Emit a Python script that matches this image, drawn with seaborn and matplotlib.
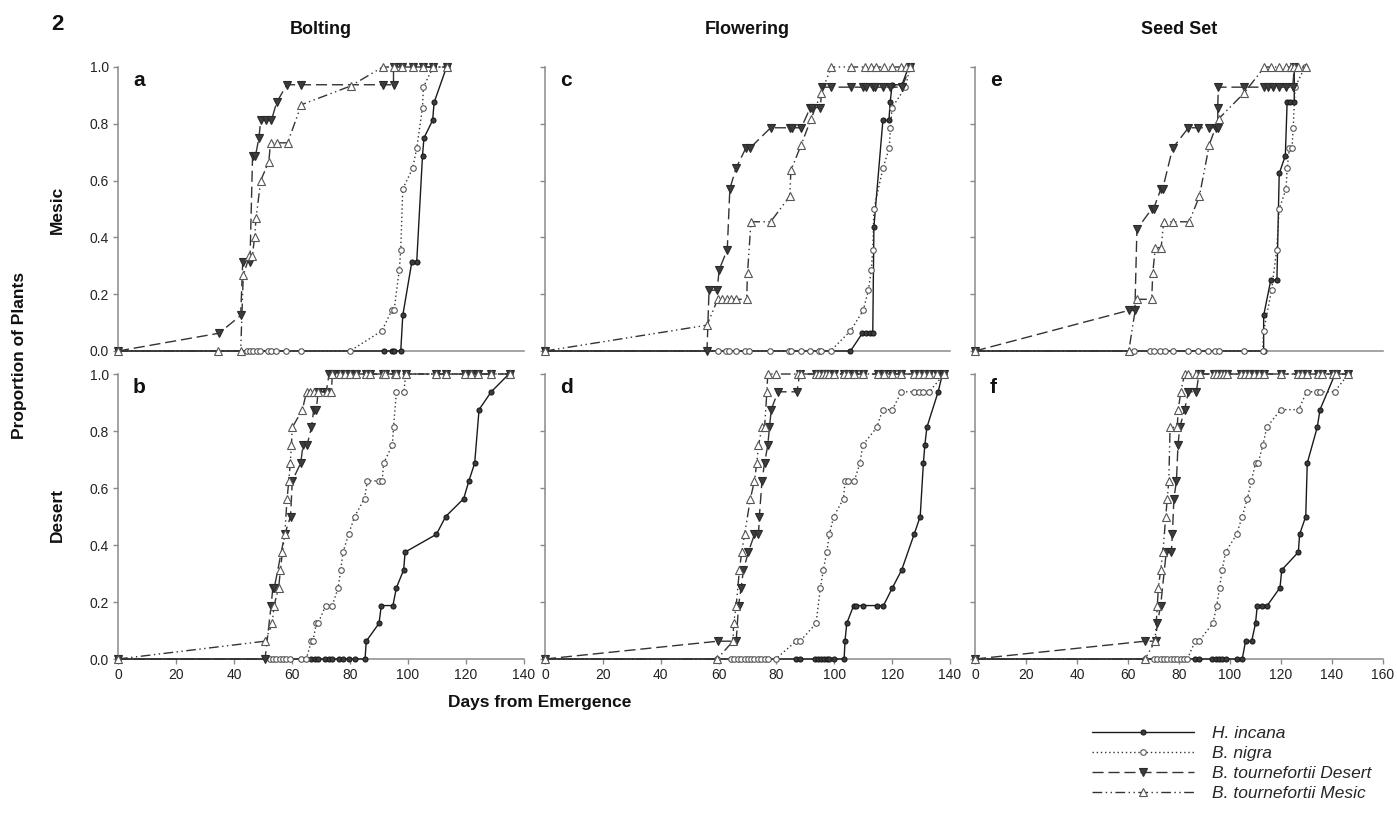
import matplotlib
matplotlib.use("Agg")
import matplotlib.pyplot as plt
from matplotlib.lines import Line2D
import seaborn as sns

sns.set_style("ticks")
plt.rcParams['font.family'] = ['Liberation Sans', 'DejaVu Sans']

# ---------------- DATA ----------------
species = ["H. incana", "B. nigra", "B. tournefortii Desert", "B. tournefortii Mesic"]
col_titles = ["Bolting", "Flowering", "Seed Set"]
row_titles = ["Mesic", "Desert"]
panel_letters = [["a", "c", "e"], ["b", "d", "f"]]
xticks_left = [0, 20, 40, 60, 80, 100, 120, 140]
xticks_right = [0, 20, 40, 60, 80, 100, 120, 140, 160]
yticks = [0.0, 0.2, 0.4, 0.6, 0.8, 1.0]

# Panel a : Bolting, Mesic site
a_hinc_x = [0, 91.7, 94.4, 95.2, 97.5, 98.2, 101.3, 103, 105, 105.5, 108.5, 109, 113.3]
a_hinc_y = [0, 0, 0, 0, 0, 0.125, 0.3125, 0.3125, 0.6875, 0.75, 0.8125, 0.875, 1.0]
a_bnig_x = [0, 44.4, 45.5, 46.7, 47.8, 49, 51.8, 52.6, 54.5, 57.9, 63, 80, 91, 94.4, 95.2,
            97, 97.5, 98.2, 101.6, 103, 105, 105.3, 108.7, 113.3]
a_bnig_y = [0, 0, 0, 0, 0, 0, 0, 0, 0, 0, 0, 0, 0.071, 0.143, 0.143,
            0.286, 0.357, 0.571, 0.643, 0.714, 0.857, 0.929, 1.0, 1.0]
a_btd_x = [0, 34.8, 42.3, 43, 45.5, 46.4, 47.4, 48.6, 49.2, 51, 52.9, 54.7, 58.2, 63, 91.3,
           95, 95, 98, 101.7, 105.3, 108.7, 113.3]
a_btd_y = [0, 0.0625, 0.125, 0.3125, 0.3125, 0.6875, 0.6875, 0.75, 0.8125, 0.8125, 0.8125,
           0.875, 0.9375, 0.9375, 0.9375, 0.9375, 1.0, 1.0, 1.0, 1.0, 1.0, 1.0]
a_btm_x = [0, 34.6, 42.3, 43.2, 45.3, 46.3, 47.1, 47.6, 49.2, 52, 52.6, 54.9, 58.5, 63.2, 80.2,
           91.3, 95, 98, 101.7, 105.3, 108.7, 113.3]
a_btm_y = [0, 0, 0, 0.267, 0.333, 0.333, 0.4, 0.467, 0.6, 0.667, 0.733, 0.733, 0.733, 0.867,
           0.933, 1.0, 1.0, 1.0, 1.0, 1.0, 1.0, 1.0]

# Panel c : Flowering, Mesic site
c_hinc_x = [0, 105.6, 109.7, 110.8, 112.2, 113.3, 113.7, 116.8, 118.9, 119.3, 120, 123.4, 125.7]
c_hinc_y = [0, 0, 0.0625, 0.0625, 0.0625, 0.0625, 0.4375, 0.8125, 0.8125, 0.875, 0.9375, 0.9375, 1.0]
c_bnig_x = [0, 59.7, 62.5, 63.7, 66, 69, 70.4, 77.7, 84.4, 85, 88.4, 91.7, 94.7, 95.5, 98.7,
            105.6, 110, 111.8, 112.8, 113.3, 113.7, 116.8, 119, 119.4, 120, 124.6, 126.2]
c_bnig_y = [0, 0, 0, 0, 0, 0, 0, 0, 0, 0, 0, 0, 0, 0, 0,
            0.071, 0.143, 0.214, 0.286, 0.357, 0.5, 0.643, 0.714, 0.786, 0.857, 0.929, 1.0]
c_btd_x = [0, 56, 56.7, 59.5, 60.2, 63, 63.9, 66, 69.4, 70.8, 78, 84.6, 85.5, 88.6, 91.7, 92.4,
           95.2, 95.7, 99, 105.9, 110, 111, 113.3, 114.2, 116.8, 119.3, 123.4, 126.2]
c_btd_y = [0, 0, 0.214, 0.214, 0.286, 0.357, 0.571, 0.643, 0.714, 0.714, 0.786, 0.786, 0.786,
           0.786, 0.857, 0.857, 0.857, 0.929, 0.929, 0.929, 0.929, 0.929, 0.929, 0.929, 0.929,
           0.929, 0.929, 1.0]
c_btm_x = [0, 56, 59.7, 61.3, 62.8, 64.3, 66, 69.7, 70, 71.2, 78, 84.6, 85, 88.6, 92, 95.5,
           99, 105.9, 110.5, 112.8, 114.3, 117.1, 120, 123.1, 124.8, 126.2]
c_btm_y = [0, 0.091, 0.182, 0.182, 0.182, 0.182, 0.182, 0.182, 0.273, 0.455, 0.455, 0.545,
           0.636, 0.727, 0.818, 0.909, 1.0, 1.0, 1.0, 1.0, 1.0, 1.0, 1.0, 1.0, 1.0, 1.0]

# Panel e : Seed set, Mesic site
e_hinc_x = [0, 113.2, 113.2, 116, 118.4, 119.3, 121.7, 122.4, 123.7, 125.2, 125.2]
e_hinc_y = [0, 0, 0.125, 0.25, 0.25, 0.625, 0.6875, 0.875, 0.875, 0.875, 1.0]
e_bnig_x = [0, 62.5, 68.8, 70.3, 72.5, 74.5, 77.6, 83.4, 87.3, 91.2, 94.2, 95.5, 105.4, 112.8,
            113.2, 116.3, 118.3, 119.3, 122, 122.4, 123.3, 124.3, 124.8, 125.5, 129.4]
e_bnig_y = [0, 0, 0, 0, 0, 0, 0, 0, 0, 0, 0, 0, 0, 0,
            0.071, 0.214, 0.357, 0.5, 0.571, 0.643, 0.714, 0.714, 0.786, 0.929, 1.0]
e_btd_x = [0, 60.3, 62.7, 63.5, 69.3, 70, 72.9, 73.6, 77.5, 83.7, 87.6, 91.6, 94.5, 95.2, 95.2,
           95.4, 105.4, 113.2, 114.8, 116.7, 119.1, 122, 124.6, 125.2]
e_btd_y = [0, 0.143, 0.143, 0.429, 0.5, 0.5, 0.571, 0.571, 0.714, 0.786, 0.786, 0.786, 0.786,
           0.786, 0.857, 0.929, 0.929, 0.929, 0.929, 0.929, 0.929, 0.929, 0.929, 1.0]
e_btm_x = [0, 60.3, 63.5, 69.3, 69.7, 70.7, 73, 74, 77.8, 84, 88, 91.9, 95.6, 105.6, 113.5,
           116, 119.3, 122, 124, 125.2, 126.5, 129.8]
e_btm_y = [0, 0, 0.182, 0.182, 0.273, 0.364, 0.364, 0.455, 0.455, 0.455, 0.545, 0.727, 0.818,
           0.909, 1.0, 1.0, 1.0, 1.0, 1.0, 1.0, 1.0, 1.0]

# Panel b : Bolting, Desert site
b_hinc_x = [0, 66.7, 67.8, 69, 71.3, 72.8, 73.9, 76.2, 77.6, 79.7, 81.8, 85.2, 85.6, 90, 90.8,
            94.8, 96, 98.5, 99, 109.8, 113, 119.2, 121, 123, 124.5, 128.7, 134.8]
b_hinc_y = [0, 0, 0, 0, 0, 0, 0, 0, 0, 0, 0, 0, 0.0625, 0.125, 0.1875, 0.1875, 0.25, 0.3125,
            0.375, 0.4375, 0.5, 0.5625, 0.625, 0.6875, 0.875, 0.9375, 1.0]
b_bnig_x = [0, 52.3, 53.4, 54.6, 55.7, 56.9, 58, 59.2, 63.2, 64.9, 66.7, 67.2, 68.4, 69, 71.6,
            73.9, 75.9, 76.8, 77.6, 79.5, 81.6, 85, 86, 90, 91.1, 91.6, 94.6, 95, 96, 98.6, 99.2,
            109.8, 113.2, 119.5, 121.8, 124.1, 128.7, 135]
b_bnig_y = [0, 0, 0, 0, 0, 0, 0, 0, 0, 0, 0.0625, 0.0625, 0.125, 0.125, 0.1875, 0.1875, 0.25,
            0.3125, 0.375, 0.4375, 0.5, 0.5625, 0.625, 0.625, 0.625, 0.6875, 0.75, 0.8125,
            0.9375, 0.9375, 1.0, 1.0, 1.0, 1.0, 1.0, 1.0, 1.0, 1.0]
b_btd_x = [0, 50.7, 52.8, 53.4, 53.9, 57.5, 59.5, 60.1, 63, 63.8, 65.2, 66.7, 67.5, 68.4, 69,
           71.8, 72.8, 74.1, 76.4, 78.2, 79.9, 82.2, 85.6, 86.8, 91.4, 92, 95.4, 96, 99.4,
           109.8, 113.2, 119.5, 121.8, 124.1, 128.7, 135]
b_btd_y = [0, 0, 0.1875, 0.25, 0.25, 0.4375, 0.5, 0.625, 0.6875, 0.75, 0.75, 0.8125, 0.875,
           0.875, 0.9375, 0.9375, 1.0, 1.0, 1.0, 1.0, 1.0, 1.0, 1.0, 1.0, 1.0, 1.0, 1.0, 1.0,
           1.0, 1.0, 1.0, 1.0, 1.0, 1.0, 1.0, 1.0]
b_btm_x = [0, 50.7, 53.2, 53.8, 55.4, 56, 56.7, 57.5, 58.3, 58.9, 59.4, 59.8, 60.1, 63.6, 65,
           66.3, 67.5, 69, 72.2, 73.6, 73.9, 76.4, 78.2, 79.9, 82.2, 85.6, 86.8, 91.4, 92, 95.4,
           96, 99.4, 109.8, 113.2, 119.5, 121.8, 124.1, 128.7, 135]
b_btm_y = [0, 0.0625, 0.125, 0.1875, 0.25, 0.3125, 0.375, 0.4375, 0.5625, 0.625, 0.6875, 0.75,
           0.8125, 0.875, 0.9375, 0.9375, 0.9375, 0.9375, 0.9375, 0.9375, 1.0, 1.0, 1.0, 1.0,
           1.0, 1.0, 1.0, 1.0, 1.0, 1.0, 1.0, 1.0, 1.0, 1.0, 1.0, 1.0, 1.0, 1.0, 1.0]

# Panel d : Flowering, Desert site
d_hinc_x = [0, 86.8, 88.2, 93.4, 94.5, 95.4, 96.3, 97.5, 98.3, 100, 103.4, 103.7, 104.3, 106.7,
            107.5, 109.8, 114.9, 117, 120.1, 123.3, 127.6, 129.7, 130.8, 131.3, 132, 135.9, 137.4]
d_hinc_y = [0, 0, 0, 0, 0, 0, 0, 0, 0, 0, 0, 0.0625, 0.125, 0.1875, 0.1875, 0.1875, 0.1875,
            0.1875, 0.25, 0.3125, 0.4375, 0.5, 0.6875, 0.75, 0.8125, 0.9375, 1.0]
d_bnig_x = [0, 59.5, 64.4, 65.5, 66.7, 67.8, 69, 70.1, 71.3, 72.4, 73.6, 74.7, 75.9, 77, 79.7,
            86.8, 88.2, 93.7, 95.2, 96.2, 97.4, 98.3, 99.8, 103.2, 103.7, 104.6, 106.9, 108.9,
            109.8, 114.7, 116.7, 120.1, 123.2, 127.6, 129.3, 130.5, 132.8, 138]
d_bnig_y = [0, 0, 0, 0, 0, 0, 0, 0, 0, 0, 0, 0, 0, 0, 0,
            0.0625, 0.0625, 0.125, 0.25, 0.3125, 0.375, 0.4375, 0.5, 0.5625, 0.625, 0.625,
            0.625, 0.6875, 0.75, 0.8125, 0.875, 0.875, 0.9375, 0.9375, 0.9375, 0.9375, 0.9375, 1.0]
d_btd_x = [0, 59.8, 66.1, 66.9, 67.8, 68.6, 70.3, 72.4, 73.8, 74.1, 75, 75.9, 77, 77.6, 78.2,
           80.5, 87.1, 88, 93.7, 94.8, 96, 97.1, 98.3, 100, 103.4, 104.6, 106.9, 109.8, 115,
           117.2, 120.1, 123, 127.6, 129.3, 131, 132.8, 135.6, 138]
d_btd_y = [0, 0.0625, 0.0625, 0.1875, 0.25, 0.3125, 0.375, 0.4375, 0.4375, 0.5, 0.625, 0.6875,
           0.75, 0.8125, 0.875, 0.9375, 0.9375, 1.0, 1.0, 1.0, 1.0, 1.0, 1.0, 1.0, 1.0, 1.0,
           1.0, 1.0, 1.0, 1.0, 1.0, 1.0, 1.0, 1.0, 1.0, 1.0, 1.0, 1.0]
d_btm_x = [0, 59.5, 65, 65.2, 66.1, 67.2, 68, 69, 71, 72.4, 73.2, 73.8, 75, 75.9, 76.7, 77,
           79.9, 87.4, 88.5, 93.7, 94.8, 96, 97.1, 98.3, 100, 103.4, 104.6, 106.9, 109.8, 115,
           117.2, 120.1, 123, 127.6, 129.3, 131, 132.8, 135.6, 138]
d_btm_y = [0, 0, 0.0625, 0.125, 0.1875, 0.3125, 0.375, 0.4375, 0.5625, 0.625, 0.6875, 0.75,
           0.8125, 0.8125, 0.9375, 1.0, 1.0, 1.0, 1.0, 1.0, 1.0, 1.0, 1.0, 1.0, 1.0, 1.0, 1.0,
           1.0, 1.0, 1.0, 1.0, 1.0, 1.0, 1.0, 1.0, 1.0, 1.0, 1.0, 1.0]

# Panel f : Seed set, Desert site
f_hinc_x = [0, 86.3, 87.8, 93, 94.4, 95.7, 97, 98.3, 102.6, 104.8, 106.1, 108.5, 110, 110.7,
            112.7, 114.6, 119.6, 120.3, 126.8, 127.3, 129.7, 130.3, 134.2, 135.3, 141.2]
f_hinc_y = [0, 0, 0, 0, 0, 0, 0, 0, 0, 0, 0.0625, 0.0625, 0.125, 0.1875, 0.1875, 0.1875, 0.25,
            0.3125, 0.375, 0.4375, 0.5, 0.6875, 0.8125, 0.875, 1.0]
f_bnig_x = [0, 66.7, 70.2, 71.5, 72.8, 74.1, 75.4, 76.7, 78, 79.3, 80.6, 81.9, 83.3, 86.3, 87.8,
            93.3, 94.8, 95.9, 96.9, 98.3, 102.6, 104.8, 106.8, 108.4, 110, 111, 112.9, 114.4,
            119.9, 127, 130, 134, 135.3, 141, 146.4]
f_bnig_y = [0, 0, 0, 0, 0, 0, 0, 0, 0, 0, 0, 0, 0, 0.0625, 0.0625, 0.125, 0.1875, 0.25, 0.3125,
            0.375, 0.4375, 0.5, 0.5625, 0.625, 0.6875, 0.6875, 0.75, 0.8125, 0.875, 0.875,
            0.9375, 0.9375, 0.9375, 0.9375, 1.0]
f_btd_x = [0, 66.7, 70.8, 71.5, 72.8, 75, 77, 77.4, 78, 79, 79.6, 80.3, 82.2, 83.7, 86.8, 87.8,
           88.1, 93.7, 95, 96.3, 97.6, 99, 104.2, 105.9, 107.5, 109.4, 111.4, 113.3, 119.9,
           126.8, 128.4, 130.3, 134.6, 135.9, 140.4, 141.4, 146.4]
f_btd_y = [0, 0.0625, 0.0625, 0.125, 0.1875, 0.375, 0.375, 0.4375, 0.5625, 0.625, 0.75, 0.8125,
           0.875, 0.9375, 0.9375, 1.0, 1.0, 1.0, 1.0, 1.0, 1.0, 1.0, 1.0, 1.0, 1.0, 1.0, 1.0,
           1.0, 1.0, 1.0, 1.0, 1.0, 1.0, 1.0, 1.0, 1.0, 1.0]
f_btm_x = [0, 66.7, 70.6, 71.5, 71.9, 72.8, 73.7, 74.8, 75.4, 76, 76.5, 79.3, 79.7, 80.7, 82.2,
           83.7, 86.8, 88.1, 93.7, 95, 96.3, 97.6, 99, 104.2, 105.9, 107.5, 109.4, 111.4, 113.3,
           119.9, 126.8, 128.4, 130.3, 134.6, 135.9, 140.4, 141.4, 146.4]
f_btm_y = [0, 0, 0.0625, 0.1875, 0.25, 0.3125, 0.375, 0.5, 0.5625, 0.625, 0.8125, 0.8125,
           0.875, 0.9375, 1.0, 1.0, 1.0, 1.0, 1.0, 1.0, 1.0, 1.0, 1.0, 1.0, 1.0, 1.0, 1.0, 1.0,
           1.0, 1.0, 1.0, 1.0, 1.0, 1.0, 1.0, 1.0, 1.0, 1.0]

panels = {
    "a": [(a_hinc_x, a_hinc_y), (a_bnig_x, a_bnig_y), (a_btd_x, a_btd_y), (a_btm_x, a_btm_y)],
    "c": [(c_hinc_x, c_hinc_y), (c_bnig_x, c_bnig_y), (c_btd_x, c_btd_y), (c_btm_x, c_btm_y)],
    "e": [(e_hinc_x, e_hinc_y), (e_bnig_x, e_bnig_y), (e_btd_x, e_btd_y), (e_btm_x, e_btm_y)],
    "b": [(b_hinc_x, b_hinc_y), (b_bnig_x, b_bnig_y), (b_btd_x, b_btd_y), (b_btm_x, b_btm_y)],
    "d": [(d_hinc_x, d_hinc_y), (d_bnig_x, d_bnig_y), (d_btd_x, d_btd_y), (d_btm_x, d_btm_y)],
    "f": [(f_hinc_x, f_hinc_y), (f_bnig_x, f_bnig_y), (f_btd_x, f_btd_y), (f_btm_x, f_btm_y)],
}

# ---------------- STYLES ----------------
styles = [
    dict(color="#1a1a1a", linestyle="-", marker="o", markersize=3.6,
         markerfacecolor="#3c3c3c", markeredgecolor="#1a1a1a"),
    dict(color="#333333", linestyle=(0, (1, 2)), marker="o", markersize=4.0,
         markerfacecolor="white", markeredgecolor="#555555"),
    dict(color="#333333", linestyle=(0, (8, 3.5)), marker="v", markersize=5.4,
         markerfacecolor="#3c3c3c", markeredgecolor="#2a2a2a"),
    dict(color="#333333", linestyle=(0, (7, 2.5, 1, 2.5, 1, 2.5)), marker="^", markersize=5.6,
         markerfacecolor="white", markeredgecolor="#555555"),
]
draw_order = [2, 3, 1, 0]

W, H = 1397, 813
fig = plt.figure(figsize=(W / 100, H / 100), dpi=100)

col_px = [(118, 524), (545, 950), (975, 1383)]
row_px = [(67, 351), (374, 659)]
spine_col = "#8a8a8a"

for r in range(2):
    for c in range(3):
        x0, x1 = col_px[c]
        yt, yb = row_px[r]
        ax = fig.add_axes([x0 / W, 1 - yb / H, (x1 - x0) / W, (yb - yt) / H])
        letter = panel_letters[r][c]
        for k in draw_order:
            xs, ys = panels[letter][k]
            sns.lineplot(x=xs, y=ys, ax=ax, estimator=None, sort=False, errorbar=None,
                         linewidth=1.0, markeredgewidth=0.8, clip_on=False, zorder=3 + k,
                         **styles[k])
        xt = xticks_right if c == 2 else xticks_left
        ax.set_xlim(xt[0], xt[-1])
        ax.set_ylim(0, 1.0)
        ax.set_xticks(xt)
        ax.set_yticks(yticks)
        for s in ["top", "right"]:
            ax.spines[s].set_visible(False)
        for s in ["left", "bottom"]:
            ax.spines[s].set_color(spine_col)
            ax.spines[s].set_linewidth(1.1)
        ax.tick_params(axis="both", colors=spine_col, labelcolor="#222222",
                       labelsize=10, length=3.5, width=1.0, direction="out", pad=3)
        if r == 0:
            ax.tick_params(axis="x", length=0, labelbottom=False)
        else:
            ax.set_xticklabels([str(v) for v in xt])
        if c == 0:
            ax.set_yticklabels([f"{v:.1f}" for v in yticks])
        else:
            ax.tick_params(axis="y", labelleft=False)
        ax.set_xlabel("")
        ax.set_ylabel("")
        ax.text(0.037, 0.952, letter, transform=ax.transAxes, fontsize=15,
                fontweight="bold", ha="left", va="center", color="#111111")

# column titles
for c in range(3):
    x0, x1 = col_px[c]
    fig.text((x0 + x1) / 2 / W, 1 - 30 / H, col_titles[c], fontsize=13,
             fontweight="bold", ha="center", va="center", color="#111111")

fig.text(57 / W, 1 - 25 / H, "2", fontsize=16, fontweight="bold",
         ha="center", va="center", color="#111111")
fig.text(20 / W, 1 - 355 / H, "Proportion of Plants", rotation=90, fontsize=12.5,
         fontweight="bold", ha="center", va="center", color="#111111")
fig.text(57 / W, 1 - 210 / H, row_titles[0], rotation=90, fontsize=12.5,
         fontweight="bold", ha="center", va="center", color="#111111")
fig.text(57 / W, 1 - 515 / H, row_titles[1], rotation=90, fontsize=12.5,
         fontweight="bold", ha="center", va="center", color="#111111")
fig.text(540 / W, 1 - 703 / H, "Days from Emergence", fontsize=12.5,
         fontweight="bold", ha="center", va="center", color="#111111")

handles = []
for k in range(4):
    st = dict(styles[k])
    handles.append(Line2D([], [], linewidth=1.0, markeredgewidth=0.8, **st))
fig.legend(handles, species, loc="upper left", bbox_to_anchor=(1092 / W, 1 - 726 / H),
           frameon=False, prop={"style": "italic", "size": 12.5},
           handlelength=5.9, handletextpad=1.0, labelspacing=0.28,
           borderpad=0, borderaxespad=0, numpoints=1)

fig.savefig("out.png", dpi=100)
